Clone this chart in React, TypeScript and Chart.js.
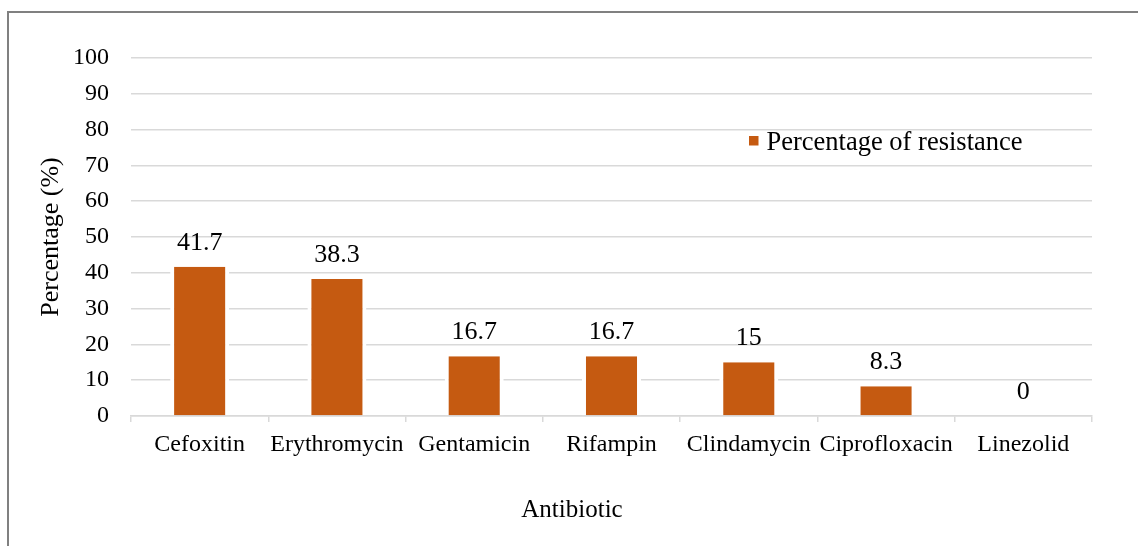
import React, { useEffect, useRef } from "react";
import { Chart, registerables } from "chart.js";

Chart.register(...registerables);

const categories = [
  "Cefoxitin",
  "Erythromycin",
  "Gentamicin",
  "Rifampin",
  "Clindamycin",
  "Ciprofloxacin",
  "Linezolid",
];
const resistance = [41.7, 38.3, 16.7, 16.7, 15, 8.3, 0];
const seriesLabel = "Percentage of resistance";
const xTitle = "Antibiotic";
const yTitle = "Percentage (%)";
const yMin = 0;
const yMax = 100;
const yStep = 10;

const FONT = '"Liberation Serif", "Times New Roman", serif';
const BAR = "#C55A11";
const GRID = "#d9d9d9";

const valueLabels = {
  id: "valueLabels",
  afterDatasetsDraw(chart: any) {
    const ctx = chart.ctx;
    const meta = chart.getDatasetMeta(0);
    ctx.save();
    ctx.font = `26px ${FONT}`;
    ctx.fillStyle = "#000";
    ctx.textAlign = "center";
    ctx.textBaseline = "alphabetic";
    meta.data.forEach((el: any, i: number) => {
      const v = chart.data.datasets[0].data[i];
      ctx.fillText(String(v), el.x, el.y - 17);
    });
    ctx.restore();
  },
};

const innerLegend = {
  id: "innerLegend",
  afterDraw(chart: any) {
    const { ctx, chartArea } = chart;
    const x = chartArea.left + 618;
    const y = chartArea.top + 78;
    ctx.save();
    ctx.fillStyle = BAR;
    ctx.fillRect(x, y, 9.5, 9.5);
    ctx.font = `26.5px ${FONT}`;
    ctx.fillStyle = "#000";
    ctx.textAlign = "left";
    ctx.textBaseline = "alphabetic";
    ctx.fillText(chart.data.datasets[0].label, x + 17.5, y + 13.5);
    ctx.restore();
  },
};

// x-axis title centred on the whole chart frame, as in the reference
const xAxisTitle = {
  id: "xAxisTitle",
  afterDraw(chart: any) {
    const { ctx, width } = chart;
    ctx.save();
    ctx.font = `25px ${FONT}`;
    ctx.fillStyle = "#000";
    ctx.textAlign = "center";
    ctx.textBaseline = "alphabetic";
    ctx.fillText(xTitle, (8 + width - 2) / 2, 517);
    ctx.restore();
  },
};

export default function App() {
  const ref = useRef<HTMLCanvasElement | null>(null);

  useEffect(() => {
    if (!ref.current) return;
    const chart = new Chart(ref.current, {
      type: "bar",
      data: {
        labels: categories,
        datasets: [
          {
            label: seriesLabel,
            data: resistance,
            backgroundColor: BAR,
            borderColor: "#ffffff",
            borderWidth: { left: 4, right: 4, top: 0, bottom: 0 } as any,
            borderSkipped: false as any,
            barPercentage: 0.43,
            categoryPercentage: 1.0,
          },
        ],
      },
      options: {
        responsive: false,
        animation: false,
        layout: { padding: { top: 58, right: 46, left: 0, bottom: 0 } },
        plugins: {
          legend: { display: false },
          tooltip: { enabled: false },
          title: { display: false },
        },
        scales: {
          x: {
            type: "category",
            grid: {
              display: true,
              drawOnChartArea: false,
              drawTicks: true,
              tickLength: 6,
              color: GRID,
              lineWidth: 1.5,
              offset: true,
            },
            border: { display: true, color: GRID, width: 1.5 },
            ticks: {
              color: "#000",
              font: { family: FONT, size: 24 },
              padding: 8,
              maxRotation: 0,
              autoSkip: false,
            },
            title: { display: false },
            afterFit: (s: any) => {
              s.height = 130;
            },
          },
          y: {
            min: yMin,
            max: yMax,
            grid: {
              color: GRID,
              lineWidth: 1.5,
              drawTicks: false,
            },
            border: { display: false },
            ticks: {
              stepSize: yStep,
              color: "#000",
              font: { family: FONT, size: 24 },
              padding: 22,
            },
            title: {
              display: true,
              text: yTitle,
              color: "#000",
              font: { family: FONT, size: 26 },
              padding: { top: 36, bottom: 0 },
            },
            afterFit: (s: any) => {
              s.width = 131;
            },
          },
        },
      },
      plugins: [valueLabels, innerLegend, xAxisTitle],
    });
    return () => chart.destroy();
  }, []);

  return (
    <div
      style={{
        position: "fixed",
        left: 0,
        top: 0,
        width: 1138,
        height: 546,
        overflow: "hidden",
        background: "#fff",
      }}
    >
      <canvas
        ref={ref}
        width={1138}
        height={546}
        style={{ position: "absolute", left: 0, top: 0, width: 1138, height: 546 }}
      />
      <div
        style={{
          position: "absolute",
          left: 7,
          top: 11,
          width: 1200,
          height: 700,
          border: "2px solid #808080",
          pointerEvents: "none",
        }}
      />
    </div>
  );
}
